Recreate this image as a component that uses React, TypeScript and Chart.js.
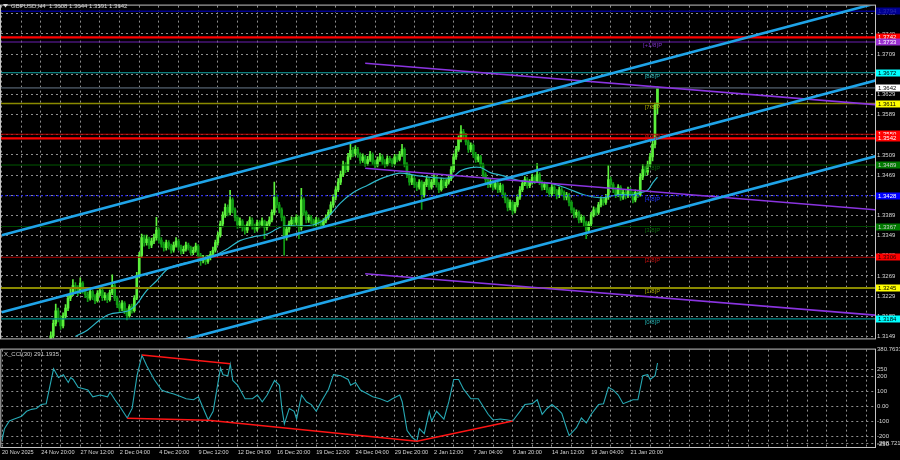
import React, { useEffect, useRef } from "react";
import { Chart, registerables } from "chart.js";

Chart.register(...registerables);

// ---------------- DATA ----------------
// GBPUSD H4 prices, stored as pips above 1.3000
const PIP_BASE = 1.3;

const opens = [
  100, 95, 88, 80, 92, 85, 78, 90, 100, 96,
  105, 98, 92, 100, 108, 112, 105, 115, 122, 128,
  135, 150, 175, 200, 185, 170, 190, 205, 225, 235,
  250, 245, 238, 255, 240, 232, 225, 238, 228, 220,
  235, 240, 226, 230, 222, 236, 250, 225, 212, 205,
  215, 200, 190, 208, 200, 225, 270, 310, 345, 335,
  342, 330, 338, 345, 360, 340, 332, 325, 335, 328,
  320, 330, 338, 326, 318, 322, 330, 325, 315, 320,
  328, 310, 300, 305, 298, 305, 312, 320, 335, 350,
  372, 390, 405, 395, 420, 400, 385, 370, 378, 365,
  360, 372, 380, 368, 362, 375, 370, 378, 365, 372,
  380, 395, 425, 410, 400, 385, 345, 362, 372, 380,
  375, 385, 365, 420, 395, 380, 385, 378, 372, 380,
  376, 370, 378, 385, 395, 410, 425, 440, 455, 470,
  490, 480, 505, 518, 512, 520, 510, 498, 505, 492,
  500, 510, 495, 488, 500, 505, 495, 490, 502, 498,
  492, 505, 500, 510, 520, 490, 470, 455, 462, 450,
  445, 455, 430, 450, 460, 445, 455, 465, 450, 440,
  458, 448, 455, 462, 480, 505, 520, 540, 555, 548,
  535, 520, 528, 510, 500, 505, 490, 470, 460, 450,
  455, 445, 452, 440, 448, 430, 420, 405, 415, 398,
  410, 425, 440, 452, 460, 448, 455, 465, 458, 470,
  455, 445, 450, 440, 432, 445, 438, 428, 440, 435,
  425, 430, 415, 400, 390, 395, 380, 385, 375, 360,
  372, 390, 400, 395, 410, 420, 415, 425, 460, 450,
  440, 430, 445, 425, 435, 428, 440, 432, 420, 435,
  430, 465, 480, 475, 490, 505, 530, 608,
];
const highs = [
  106, 99, 92, 96, 97, 88, 94, 106, 104, 110,
  109, 102, 104, 113, 118, 116, 120, 128, 134, 142,
  158, 182, 213, 205, 190, 196, 212, 232, 245, 262,
  256, 250, 265, 258, 245, 237, 243, 241, 232, 240,
  248, 243, 236, 234, 241, 271, 254, 229, 216, 220,
  218, 204, 212, 213, 230, 276, 316, 352, 350, 350,
  346, 344, 352, 385, 364, 345, 336, 340, 339, 332,
  336, 345, 342, 330, 328, 336, 334, 328, 326, 334,
  331, 314, 310, 309, 310, 318, 326, 340, 356, 378,
  396, 412, 410, 439, 424, 404, 388, 384, 381, 370,
  377, 386, 384, 372, 380, 379, 384, 380, 377, 386,
  400, 455, 430, 415, 404, 388, 368, 378, 386, 385,
  390, 388, 443, 424, 398, 390, 389, 382, 385, 384,
  380, 383, 390, 400, 416, 430, 446, 462, 477, 497,
  494, 512, 532, 524, 527, 524, 513, 511, 508, 506,
  516, 513, 499, 505, 512, 509, 500, 507, 506, 502,
  510, 509, 516, 530, 523, 494, 474, 468, 466, 455,
  460, 458, 455, 466, 464, 460, 470, 468, 454, 463,
  462, 460, 468, 486, 511, 526, 547, 567, 560, 552,
  539, 533, 531, 514, 510, 508, 493, 474, 464, 460,
  458, 457, 455, 453, 451, 434, 424, 420, 418, 415,
  430, 446, 458, 466, 464, 460, 471, 469, 492, 474,
  458, 455, 453, 444, 450, 448, 441, 445, 444, 438,
  435, 433, 418, 404, 400, 398, 390, 388, 378, 377,
  395, 406, 404, 415, 426, 424, 431, 488, 465, 454,
  444, 450, 448, 440, 439, 445, 444, 436, 440, 439,
  472, 490, 486, 497, 512, 542, 612, 644,
];
const lows = [
  90, 84, 74, 78, 80, 72, 76, 87, 90, 93,
  94, 86, 89, 97, 104, 100, 102, 111, 118, 124,
  130, 146, 170, 178, 163, 166, 185, 200, 220, 230,
  238, 230, 234, 235, 226, 218, 221, 222, 214, 217,
  230, 220, 221, 216, 219, 232, 220, 206, 198, 200,
  194, 182, 187, 195, 197, 222, 265, 305, 328, 330,
  323, 325, 333, 340, 334, 326, 318, 320, 322, 314,
  316, 326, 320, 312, 313, 318, 320, 310, 311, 316,
  304, 290, 295, 292, 294, 301, 308, 316, 330, 346,
  366, 385, 388, 390, 394, 378, 363, 365, 358, 352,
  355, 368, 362, 355, 358, 364, 366, 343, 360, 368,
  376, 390, 404, 394, 378, 310, 340, 356, 367, 369,
  370, 343, 360, 389, 374, 375, 372, 366, 368, 370,
  364, 366, 374, 381, 391, 405, 420, 436, 450, 466,
  474, 476, 500, 505, 507, 504, 492, 494, 486, 488,
  496, 490, 483, 485, 496, 490, 484, 487, 493, 486,
  489, 495, 497, 506, 485, 464, 449, 450, 444, 438,
  441, 401, 425, 446, 440, 441, 450, 445, 434, 437,
  443, 444, 451, 458, 476, 500, 516, 535, 540, 529,
  514, 515, 504, 494, 495, 484, 464, 454, 444, 445,
  439, 441, 434, 435, 424, 414, 398, 400, 391, 394,
  406, 421, 436, 448, 443, 444, 451, 452, 454, 450,
  439, 440, 434, 426, 428, 432, 422, 424, 430, 420,
  420, 408, 394, 384, 385, 374, 375, 368, 343, 356,
  368, 386, 389, 391, 406, 409, 411, 421, 444, 434,
  424, 426, 419, 421, 422, 424, 426, 414, 416, 424,
  427, 460, 468, 470, 486, 497, 523, 591,
];
const closes = [
  95, 88, 80, 92, 85, 78, 90, 100, 96, 105,
  98, 92, 100, 108, 112, 105, 115, 122, 128, 135,
  150, 175, 200, 185, 170, 190, 205, 225, 235, 250,
  245, 238, 255, 240, 232, 225, 238, 228, 220, 235,
  240, 226, 230, 222, 236, 250, 225, 212, 205, 215,
  200, 190, 208, 200, 225, 270, 310, 345, 335, 342,
  330, 338, 345, 360, 340, 332, 325, 335, 328, 320,
  330, 338, 326, 318, 322, 330, 325, 315, 320, 328,
  310, 300, 305, 298, 305, 312, 320, 335, 350, 372,
  390, 405, 395, 420, 400, 385, 370, 378, 365, 360,
  372, 380, 368, 362, 375, 370, 378, 365, 372, 380,
  395, 425, 410, 400, 385, 345, 362, 372, 380, 375,
  385, 365, 420, 395, 380, 385, 378, 372, 380, 376,
  370, 378, 385, 395, 410, 425, 440, 455, 470, 490,
  480, 505, 518, 512, 520, 510, 498, 505, 492, 500,
  510, 495, 488, 500, 505, 495, 490, 502, 498, 492,
  505, 500, 510, 520, 490, 470, 455, 462, 450, 445,
  455, 430, 450, 460, 445, 455, 465, 450, 440, 458,
  448, 455, 462, 480, 505, 520, 540, 555, 548, 535,
  520, 528, 510, 500, 505, 490, 470, 460, 450, 455,
  445, 452, 440, 448, 430, 420, 405, 415, 398, 410,
  425, 440, 452, 460, 448, 455, 465, 458, 470, 455,
  445, 450, 440, 432, 445, 438, 428, 440, 435, 425,
  430, 415, 400, 390, 395, 380, 385, 375, 360, 372,
  390, 400, 395, 410, 420, 415, 425, 460, 450, 440,
  430, 445, 425, 435, 428, 440, 432, 420, 435, 430,
  465, 480, 475, 490, 505, 530, 608, 642,
];

// moving average (teal): bar index + pips
const maBars = [30, 35, 40, 44, 49, 52, 55, 59, 63, 68, 74, 81, 86, 92, 97, 102, 108, 112, 115, 122, 128, 133, 138, 143, 149, 155, 162, 169, 176, 183, 187, 191, 195, 199, 204, 210, 216, 223, 230, 237, 244, 251, 257, 260, 263, 265, 267];
const maPips = [149, 162, 182, 193, 197, 201, 213, 240, 259, 284, 294, 300, 308, 323, 339, 346, 352, 362, 368, 368, 372, 387, 414, 434, 449, 463, 473, 468, 464, 464, 478, 484, 484, 474, 468, 459, 455, 453, 443, 430, 424, 430, 430, 434, 439, 453, 465];

// CCI(30)
const cciBars = [0, 1, 3, 5, 8, 10, 12, 14, 16, 18, 19, 21, 23, 25, 27, 28, 29, 31, 35, 37, 40, 43, 44, 46, 48, 51, 53, 55, 57, 59, 62, 65, 67, 70, 73, 75, 78, 80, 82, 84, 86, 88, 89, 90, 92, 93, 94, 96, 99, 102, 104, 106, 108, 111, 113, 114, 115, 117, 119, 120, 122, 124, 126, 128, 130, 133, 135, 138, 141, 142, 144, 146, 149, 151, 154, 157, 159, 162, 163, 165, 167, 169, 170, 172, 174, 175, 177, 180, 182, 184, 186, 188, 191, 194, 196, 198, 200, 203, 206, 208, 211, 213, 216, 218, 220, 222, 224, 226, 228, 230, 231, 234, 236, 238, 240, 243, 245, 247, 249, 251, 253, 255, 257, 259, 261, 263, 264, 266, 267];
const cciValues = [-226, -148, -97, -84, -65, -32, -19, -13, 13, 19, 97, 252, 194, 213, 161, 194, 181, 129, 110, 65, 77, 65, 97, 45, 0, -77, -13, 206, 342, 271, 181, 110, 97, 84, 65, 52, 45, 65, -13, -90, -32, 161, 258, 213, 206, 284, 174, 142, 52, 52, 77, 32, 77, 174, 142, -13, -116, -13, -32, -84, 77, 32, 13, -32, 32, 116, 213, 206, 181, 142, 161, 110, 84, 65, 52, 32, 52, 77, 32, -161, -206, -232, -148, -181, -32, -97, -32, -84, 32, 181, 181, 116, 52, 52, 0, -52, -90, -84, -90, -97, -32, 13, 19, 45, -52, -13, 13, -13, -45, -148, -194, -142, -77, -110, -52, 13, 19, 129, 110, 77, 19, 32, 45, 45, 206, 213, 181, 206, 291.1935];

// CCI divergence lines (bar, value)
const divTopBars = [57, 93];
const divTopValues = [344, 286];
const divLowBars = [51, 84, 169];
const divLowValues = [-79, -92, -232];
const divRiseBars = [169, 208];
const divRiseValues = [-232, -97];

// time axis labels, one every 16 bars from bar 0
const xLabels = ["20 Nov 2025", "24 Nov 20:00", "27 Nov 12:00", "2 Dec 04:00", "4 Dec 20:00", "9 Dec 12:00", "12 Dec 04:00", "16 Dec 20:00", "19 Dec 12:00", "24 Dec 04:00", "29 Dec 20:00", "2 Jan 12:00", "7 Jan 04:00", "9 Jan 20:00", "14 Jan 12:00", "19 Jan 04:00", "21 Jan 20:00"];

// price axis ticks
const priceTicks = [1.3149, 1.3189, 1.3229, 1.3269, 1.3309, 1.3349, 1.3389, 1.3429, 1.3469, 1.3509, 1.3549, 1.3589, 1.3629, 1.3669, 1.3709, 1.3749, 1.3789];
const cciTicks = [380.7633, 250, 200, 100, 0, -100, -200, -250];
const cciMinLabel = "-298.7213";

// horizontal levels (Murrey levels, S/R lines, current price)
const levelPrices = [1.3794, 1.3742, 1.3733, 1.3672, 1.3642, 1.3611, 1.355, 1.3542, 1.3489, 1.3428, 1.3367, 1.3306, 1.3245, 1.3184];

// Murrey labels
const murreyNames = ["[+1/8]P", "[8/8]P", "[7/8]P", "[6/8]P", "[5/8]P", "[4/8]P", "[3/8]P", "[2/8]P", "[1/8]P", "[0/8]P"];
const murreyPrices = [1.3733, 1.3672, 1.3611, 1.355, 1.3489, 1.3428, 1.3367, 1.3306, 1.3245, 1.3184];
const murreyLabelBar = 265;

// linear regression / trend channels (pips at the given bars)
const channelBars = [0, 356];
const channelUpper = [349.9, 809.8];
const channelMiddle = [197.0, 656.9];
const channelLower = [46.6, 506.5];
const regBars = [148, 356];
const regUpper = [691.0, 608.6];
const regMiddle = [482.5, 400.1];
const regLower = [273.4, 191.0];

// ---------------- STYLE ----------------
const X_MIN = -0.285;
const X_MAX = 355.58;
const FONT = "'Liberation Sans', Arial, sans-serif";
const FS = 6;
const FS_X = 5.6;
const AXIS_TEXT = "#d6d6d6";
const GRID = "#8e8e8e";
const FRAME = "#c4c4c4";
const BULL = "#5cf03c";
const BEAR = "#119c14";

const levelLineColors = ["#000090", "#ff0000", "#6a1fb0", "#12a8a8", "#3c4650", "#8a8a00", "#c00000", "#ff0000", "#005a00", "#1414ff", "#004800", "#b00000", "#8a8a00", "#008c8c"];
const levelLineWidths = [1.5, 2.2, 1.2, 1.2, 1.8, 1.6, 1, 2.2, 1, 1, 1, 1, 2, 1.2];
const levelDashes = [[], [], [], [], [], [], [], [], [], [2, 2], [], [], [], []];
const boxFills = ["#000090", "#ff0000", "#9a30d0", "#00ffff", "#ffffff", "#ffff00", "#ff0000", "#ff0000", "#007a00", "#0000ff", "#007a00", "#ff0000", "#ffff00", "#00ffff"];
const boxTextColors = ["#2a2ab0", "#ffffff", "#ffffff", "#000000", "#000000", "#000000", "#ffffff", "#ffffff", "#d0d0d0", "#ffffff", "#d0d0d0", "#300000", "#000000", "#000000"];
const murreyTextColors = ["#7a2fc4", "#20a8a8", "#a6a600", "#c41010", "#0a6a0a", "#2232ff", "#0a6a0a", "#c41010", "#a6a600", "#20a8a8"];

const P = (v: number) => PIP_BASE + v / 10000;
const fmt4 = (v: number) => P(v).toFixed(4);
const xTickValues: number[] = [];
for (let v = 0; v <= X_MAX; v += 8) xTickValues.push(v);

function xScale(showLabels: boolean) {
  return {
    type: "linear",
    min: X_MIN,
    max: X_MAX,
    offset: false,
    afterBuildTicks: (s: any) => {
      s.ticks = xTickValues.map((v) => ({ value: v }));
    },
    afterFit: (s: any) => {
      s.height = showLabels ? 13 : 0;
    },
    grid: { color: GRID, lineWidth: 1, drawTicks: false, offset: false },
    border: { display: false, dash: [2, 3] },
    ticks: {
      display: showLabels,
      autoSkip: false,
      maxRotation: 0,
      minRotation: 0,
      align: "start",
      padding: 2,
      color: AXIS_TEXT,
      font: { family: FONT, size: FS_X },
      callback: (v: any) => (v % 16 === 0 ? xLabels[v / 16] ?? "" : ""),
    },
  };
}

const framePlugin = {
  id: "frame",
  afterDraw(chart: any) {
    const { ctx, chartArea: a } = chart;
    ctx.save();
    ctx.strokeStyle = FRAME;
    ctx.lineWidth = 1;
    ctx.strokeRect(a.left - 0.5, a.top - 0.5, a.right - a.left + 1, a.bottom - a.top + 1);
    ctx.restore();
  },
};

const mainOverlay = {
  id: "mainOverlay",
  afterDraw(chart: any) {
    const { ctx, chartArea: a, scales } = chart;
    const xs = scales.x;
    const ys = scales.y;
    ctx.save();
    ctx.font = `${FS}px ${FONT}`;
    // Murrey labels
    ctx.textAlign = "center";
    ctx.textBaseline = "top";
    murreyNames.forEach((name, k) => {
      ctx.fillStyle = murreyTextColors[k];
      ctx.fillText(name, xs.getPixelForValue(murreyLabelBar), ys.getPixelForValue(murreyPrices[k]) + 0.5);
    });
    // price boxes on the axis
    ctx.textAlign = "left";
    ctx.textBaseline = "middle";
    levelPrices.forEach((p, k) => {
      const y = Math.round(ys.getPixelForValue(p));
      ctx.fillStyle = boxFills[k];
      ctx.fillRect(a.right + 1, y - 3.5, 900 - a.right - 1, 7);
      ctx.fillStyle = boxTextColors[k];
      ctx.fillText(p.toFixed(4), a.right + 3, y + 0.5);
    });
    // title
    const last = closes.length - 1;
    ctx.fillStyle = "#d8d8d8";
    ctx.beginPath();
    ctx.moveTo(3, 4);
    ctx.lineTo(8, 4);
    ctx.lineTo(5.5, 7.5);
    ctx.closePath();
    ctx.fill();
    ctx.textBaseline = "middle";
    ctx.fillText(
      `GBPUSD,H4  ${fmt4(opens[last])} ${fmt4(highs[last])} ${fmt4(lows[last])} ${fmt4(closes[last])}`,
      11,
      6
    );
    ctx.restore();
  },
};

const cciOverlay = {
  id: "cciOverlay",
  afterDraw(chart: any) {
    const { ctx, chartArea: a, scales } = chart;
    ctx.save();
    ctx.font = `${FS}px ${FONT}`;
    ctx.fillStyle = "#d0d0d0";
    ctx.textAlign = "left";
    ctx.textBaseline = "middle";
    ctx.fillText(`X_CCI(30) ${cciValues[cciValues.length - 1].toFixed(4)}`, 4, a.top + 5);
    ctx.fillStyle = AXIS_TEXT;
    ctx.fillText(cciMinLabel, a.right + 2, scales.y.getPixelForValue(-245));
    ctx.restore();
  },
};

function lineDs(bars: number[], vals: number[], color: string, width: number, order: number, extra: any = {}) {
  return {
    type: "line",
    data: bars.map((b, k) => ({ x: b, y: vals[k] })),
    borderColor: color,
    borderWidth: width,
    pointRadius: 0,
    fill: false,
    tension: 0,
    order,
    clip: 0,
    ...extra,
  };
}

function mainConfig(): any {
  const idx = closes.map((_, i) => i);
  const colors = idx.map((i) => (closes[i] >= opens[i] ? BULL : BEAR));
  const toP = (arr: number[]) => arr.map(P);
  const datasets: any[] = [
    {
      type: "bar",
      data: idx.map((i) => ({ x: i, y: [P(lows[i]), P(highs[i])] })),
      backgroundColor: colors,
      borderWidth: 0,
      barThickness: 1,
      grouped: false,
      minBarLength: 1,
      order: 30,
      clip: 0,
    },
    {
      type: "bar",
      data: idx.map((i) => ({ x: i, y: [P(opens[i]), P(closes[i])] })),
      backgroundColor: colors,
      borderWidth: 0,
      barThickness: 2,
      grouped: false,
      minBarLength: 1,
      order: 29,
      clip: 0,
    },
    lineDs(maBars, toP(maPips), "#2db6c8", 1.2, 20, { tension: 0.35 }),
  ];
  levelPrices.forEach((p, k) => {
    datasets.push(
      lineDs([X_MIN, X_MAX], [p, p], levelLineColors[k], levelLineWidths[k], 15, { borderDash: levelDashes[k] })
    );
  });
  [regUpper, regMiddle, regLower].forEach((r) => datasets.push(lineDs(regBars, toP(r), "#8a34e0", 1.6, 12)));
  [channelUpper, channelMiddle, channelLower].forEach((c) =>
    datasets.push(lineDs(channelBars, toP(c), "#1fa4e8", 2.6, 10))
  );
  return {
    type: "line",
    data: { datasets },
    options: {
      responsive: false,
      animation: false,
      devicePixelRatio: 1,
      events: [],
      layout: { padding: { left: 1, top: 1, right: 0, bottom: 2 } },
      plugins: { legend: { display: false }, tooltip: { enabled: false } },
      scales: {
        x: xScale(false),
        y: {
          type: "linear",
          position: "right",
          min: 1.31451,
          max: 1.38052,
          afterBuildTicks: (s: any) => {
            s.ticks = priceTicks.map((v) => ({ value: v }));
          },
          afterFit: (s: any) => {
            s.width = 25;
          },
          grid: { color: GRID, drawTicks: false },
          border: { display: true, color: FRAME, dash: [2, 3] },
          ticks: {
            color: AXIS_TEXT,
            padding: 2,
            font: { family: FONT, size: FS },
            callback: (v: any) => Number(v).toFixed(4),
          },
        },
      },
    },
    plugins: [framePlugin, mainOverlay],
  };
}

function cciConfig(): any {
  const datasets: any[] = [
    lineDs(cciBars, cciValues, "#27a9b4", 1.1, 10),
    lineDs(divTopBars, divTopValues, "#ff1414", 1.5, 5),
    lineDs(divLowBars, divLowValues, "#ff1414", 1.5, 5),
    lineDs(divRiseBars, divRiseValues, "#ff1414", 1.5, 5),
  ];
  return {
    type: "line",
    data: { datasets },
    options: {
      responsive: false,
      animation: false,
      devicePixelRatio: 1,
      events: [],
      layout: { padding: { left: 1, top: 2, right: 0, bottom: 0 } },
      plugins: { legend: { display: false }, tooltip: { enabled: false } },
      scales: {
        x: xScale(true),
        y: {
          type: "linear",
          position: "right",
          min: -270.9,
          max: 380.7633,
          afterBuildTicks: (s: any) => {
            s.ticks = cciTicks.map((v) => ({ value: v }));
          },
          afterFit: (s: any) => {
            s.width = 25;
          },
          grid: {
            drawTicks: false,
            color: (c: any) => (c.tick && c.tick.value > 300 ? "rgba(0,0,0,0)" : GRID),
          },
          border: { display: true, color: FRAME, dash: [2, 3] },
          ticks: {
            color: AXIS_TEXT,
            padding: 2,
            font: { family: FONT, size: FS },
            callback: (v: any) => (v === 0 ? "0.00" : String(v)),
          },
        },
      },
    },
    plugins: [framePlugin, cciOverlay],
  };
}

export default function App() {
  const mainRef = useRef<HTMLCanvasElement>(null);
  const cciRef = useRef<HTMLCanvasElement>(null);
  useEffect(() => {
    document.body.style.margin = "0";
    document.body.style.background = "#000";
    const c1 = new Chart(mainRef.current as HTMLCanvasElement, mainConfig());
    const c2 = new Chart(cciRef.current as HTMLCanvasElement, cciConfig());
    return () => {
      c1.destroy();
      c2.destroy();
    };
  }, []);
  return (
    <div style={{ position: "relative", width: 900, height: 460, background: "#000", overflow: "hidden" }}>
      <canvas ref={mainRef} width={900} height={344} style={{ position: "absolute", left: 0, top: 0 }} />
      <canvas ref={cciRef} width={900} height={116} style={{ position: "absolute", left: 0, top: 344 }} />
    </div>
  );
}
